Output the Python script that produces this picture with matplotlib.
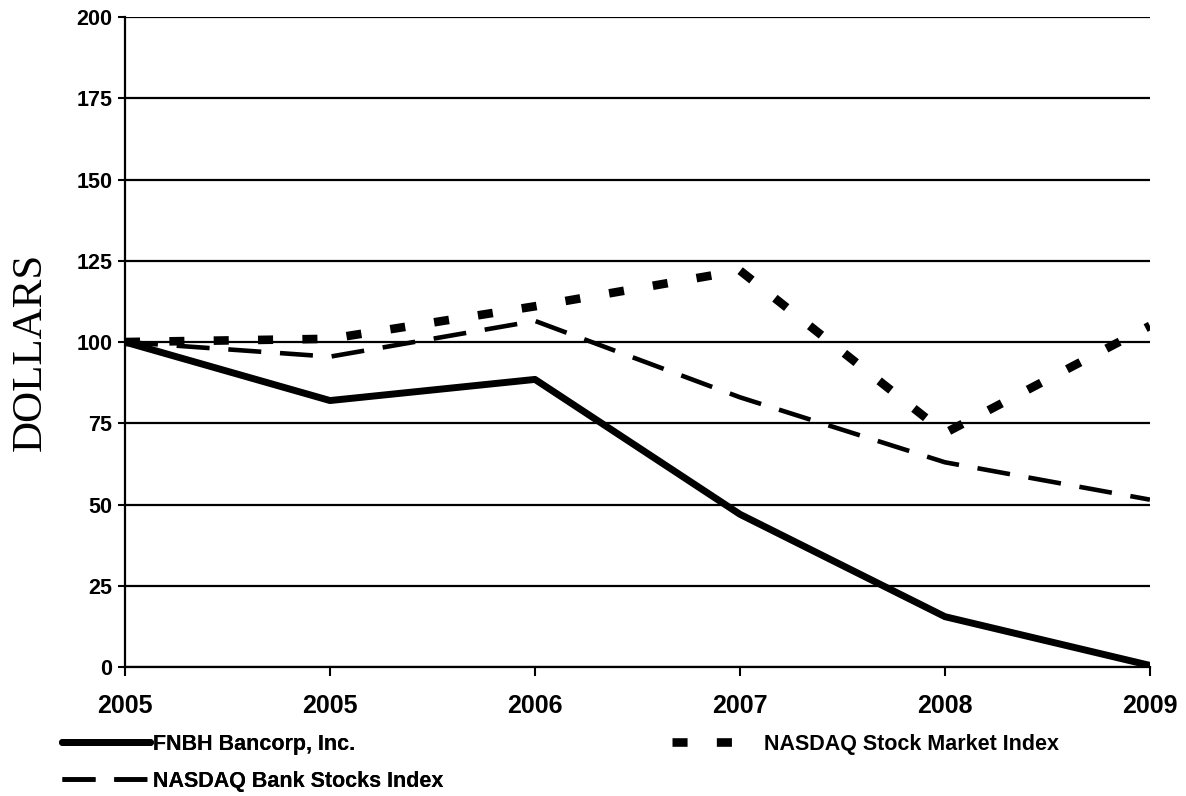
import numpy as np
import matplotlib
matplotlib.use('Agg')
from matplotlib import pyplot as plt

# data
years = ['2005', '2005', '2006', '2007', '2008', '2009']
fnbh = [100, 82, 88.5, 47, 15.5, 0.5]
nasdaq_stock = [100, 101, 111, 122, 72, 105]
nasdaq_bank = [100, 95.5, 106.5, 83, 63, 51.5]
y_ticks = [0, 25, 50, 75, 100, 125, 150, 175, 200]

plt.rcParams['font.family'] = ['Liberation Sans', 'DejaVu Sans']

fig = plt.figure(figsize=(11.86, 7.96), dpi=100)
ax = fig.add_axes([0.1054, 0.162, 0.9696 - 0.1054, 0.9786 - 0.162])

x = np.arange(len(years))
l1, = ax.plot(x, fnbh, color='black', lw=5, solid_capstyle='round',
              label='FNBH Bancorp, Inc.', zorder=3)
l2, = ax.plot(x, nasdaq_stock, color='black', lw=6.2, dashes=(1.75, 3.4),
              dash_capstyle='butt', label='NASDAQ Stock Market Index', zorder=3)
l3, = ax.plot(x, nasdaq_bank, color='black', lw=3.3, dashes=(7.2, 4.1),
              label='NASDAQ Bank Stocks Index', zorder=3)

ax.set_xlim(0, len(years) - 1)
ax.set_ylim(0, 200)
ax.set_yticks(y_ticks)
ax.set_xticks(x)
ax.set_xticklabels(years)
for lab in ax.get_xticklabels():
    lab.set_fontweight('bold'); lab.set_fontsize(18)
for lab in ax.get_yticklabels():
    lab.set_fontweight('bold'); lab.set_fontsize(15.5)
ax.yaxis.grid(True, color='black', lw=1.6)
ax.set_axisbelow(True)
ax.tick_params(axis='x', direction='out', length=6.5, width=1.5, pad=13)
ax.tick_params(axis='y', direction='out', length=5, width=1.5, pad=4)
for s in ['top', 'right']:
    ax.spines[s].set_visible(False)
for s in ['left', 'bottom']:
    ax.spines[s].set_linewidth(1.6)

ax.set_ylabel('DOLLARS', family='Liberation Serif', fontsize=31)
ax.yaxis.set_label_coords(-0.073, 0.485)

leg1 = fig.legend(handles=[l1, l3], loc='upper left', bbox_to_anchor=(0.052, 0.078),
                  frameon=False, prop={'weight': 'bold', 'size': 15.5},
                  handlelength=4.1, handletextpad=0.14, labelspacing=0.73,
                  borderpad=0, borderaxespad=0)
fig.add_artist(leg1)
fig.legend(handles=[l2], loc='upper left', bbox_to_anchor=(0.567, 0.078),
           frameon=False, prop={'weight': 'bold', 'size': 15.5},
           handlelength=3.0, handletextpad=1.25, borderpad=0, borderaxespad=0)

fig.savefig('out.png', dpi=100)
